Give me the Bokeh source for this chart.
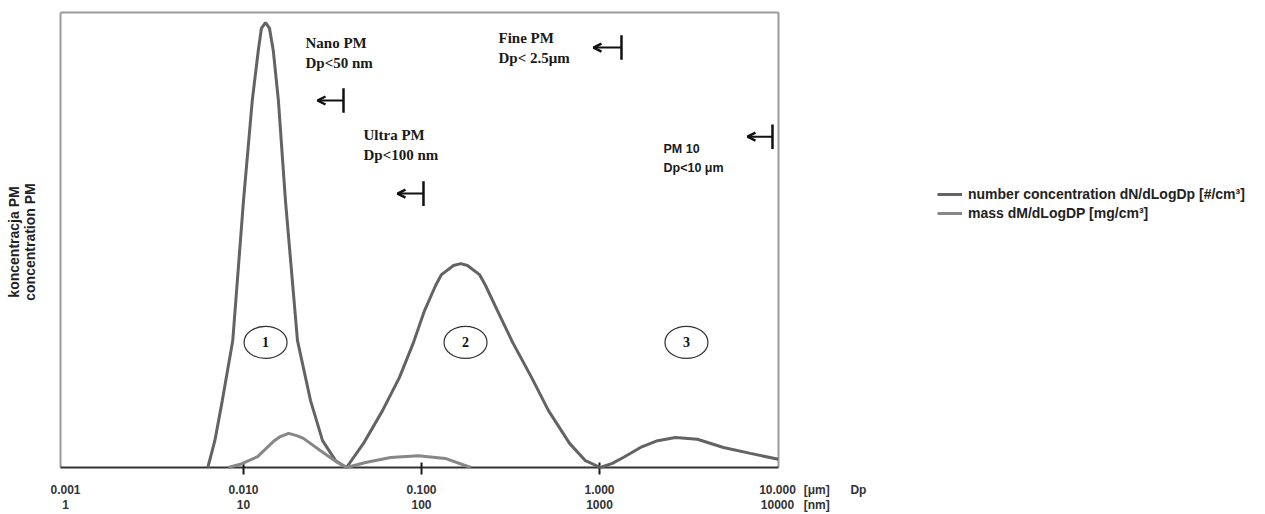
from bokeh.plotting import figure
from bokeh.models import Range1d, FixedTicker, Legend, LegendItem, Arrow, OpenHead
from bokeh.core.properties import value
from bokeh.embed import file_html
from bokeh.resources import INLINE

# ---------------- data ----------------
# particle diameter Dp [um] and relative concentration (arbitrary units, 0-100)
dp_number = [0.0063, 0.0069, 0.0076, 0.0087, 0.0100, 0.0112, 0.0121, 0.0126, 0.0133,
             0.0140, 0.0147, 0.0157, 0.0172, 0.0201, 0.0238, 0.0278, 0.0329, 0.0379,
             0.0472, 0.0604, 0.0752, 0.0902, 0.104, 0.120, 0.1295, 0.1513, 0.166, 0.1813,
             0.2117, 0.229, 0.267, 0.325, 0.415, 0.517, 0.679, 0.834, 1.01, 1.18, 1.36,
             1.70, 2.12, 2.67, 3.55, 4.97, 7.05, 10.1]
conc_number = [0.0, 5.9, 14.7, 27.9, 58.7, 80.7, 91.6, 96.5, 97.8,
               96.5, 91.6, 80.7, 58.7, 27.9, 14.7, 5.9, 1.5, 0.0,
               5.3, 12.5, 19.8, 27.5, 34.5, 40.0, 42.4, 44.4, 44.8, 44.4,
               42.4, 40.0, 34.5, 27.5, 19.8, 12.5, 5.3, 1.5, 0.0, 0.9, 2.2,
               4.4, 5.9, 6.6, 6.2, 4.4, 3.1, 1.8]

dp_mass = [0.0082, 0.0096, 0.0120, 0.0147, 0.0161, 0.0179, 0.0199, 0.0217, 0.0271,
           0.0337, 0.0379, 0.0485, 0.0670, 0.0962, 0.136, 0.189]
conc_mass = [0.0, 0.7, 2.4, 5.7, 6.8, 7.5, 7.0, 6.4, 3.7,
             1.1, 0.0, 1.1, 2.2, 2.6, 2.0, 0.0]

tick_um = [0.001, 0.01, 0.1, 1, 10]
tick_um_labels = ["0.001", "0.010", "0.100", "1.000", "10.000"]
tick_nm_labels = ["1", "10", "100", "1000", "10000"]
unit_labels = "[\u03bcm]\n[nm]"
x_title = "Dp"

legend_labels = ["number concentration dN/dLogDp [#/cm\u00b3]", "mass dM/dLogDP [mg/cm\u00b3]"]
y_title = "koncentracja PM\nconcentration PM"

mode_labels = ["1", "2", "3"]
class_names = ["Nano PM", "Ultra PM", "Fine PM"]
class_limits = ["Dp<50 nm", "Dp<100 nm", "Dp< 2.5\u03bcm"]
pm10_name = "PM 10"
pm10_limit = "Dp<10 \u03bcm"

# ---------------- layout constants ----------------
frame_left_dp, frame_right_dp = 0.000937, 10.13      # drawn plot box
x_start, x_end = 0.000913, 5309.0                    # frame spans to the legend area
y_start, y_end = -1.538, 100.66
unit_tick_dp, title_tick_dp = 16.6, 28.5

p = figure(width=1262, height=514, x_axis_type="log",
           x_range=Range1d(x_start, x_end), y_range=Range1d(y_start, y_end),
           output_backend="svg", toolbar_location=None,
           min_border_left=58, min_border_right=0, min_border_top=9, min_border_bottom=40)
p.grid.visible = False
p.outline_line_color = None
p.background_fill_color = "white"
p.border_fill_color = "white"

# x axis: only labels (marks and line are drawn as glyphs to stop at the box)
xa = p.xaxis[0]
all_ticks = tick_um + [unit_tick_dp, title_tick_dp]
xa.ticker = FixedTicker(ticks=all_ticks, minor_ticks=[])
overrides = {t: f"{a}\n{b}" for t, a, b in zip(tick_um, tick_um_labels, tick_nm_labels)}
overrides[unit_tick_dp] = unit_labels
overrides[title_tick_dp] = x_title
xa.major_label_overrides = overrides
xa.major_label_text_font = "Liberation Sans"
xa.major_label_text_font_style = "bold"
xa.major_label_text_font_size = "12px"
xa.major_label_text_color = "#333333"
xa.major_label_text_line_height = 1.1
xa.major_label_standoff = 8
xa.axis_line_color = None
xa.major_tick_line_color = None
xa.minor_tick_line_color = None
xa.major_tick_in = 0
xa.major_tick_out = 0

ya = p.yaxis[0]
ya.ticker = FixedTicker(ticks=[])
ya.major_tick_line_color = None
ya.minor_tick_line_color = None
ya.major_tick_out = 0
ya.major_tick_in = 0
ya.major_label_standoff = 0
ya.axis_line_color = None
ya.axis_label = y_title
ya.axis_label_text_font = "Liberation Sans"
ya.axis_label_text_font_style = "bold"
ya.axis_label_text_font_size = "14px"
ya.axis_label_text_line_height = 0.95
ya.axis_label_text_color = "#222222"
ya.axis_label_standoff = 21

# plot box and baseline
p.segment(x0=[frame_left_dp, frame_left_dp, frame_right_dp],
          y0=[0, 100, 0],
          x1=[frame_left_dp, frame_right_dp, frame_right_dp],
          y1=[100, 100, 100], line_color="#9a9a9a", line_width=2)
p.segment(x0=[frame_left_dp], y0=[0], x1=[frame_right_dp], y1=[0], line_color="#333333", line_width=2)
inner_ticks = tick_um[1:-1]
p.segment(x0=inner_ticks, y0=[-1.75] * len(inner_ticks), x1=inner_ticks, y1=[1.1] * len(inner_ticks),
          line_color="#1a1a1a", line_width=2)

# ---------------- curves ----------------
r_num = p.line(dp_number, conc_number, line_color="#636363", line_width=3)
r_mass = p.line(dp_mass, conc_mass, line_color="#878787", line_width=3)

legend = Legend(items=[LegendItem(label=legend_labels[0], renderers=[r_num]),
                       LegendItem(label=legend_labels[1], renderers=[r_mass])],
                location=(879, 253), padding=0, margin=0, spacing=3,
                glyph_width=25, glyph_height=16, label_height=16, label_standoff=6,
                border_line_color=None, background_fill_alpha=0,
                label_text_font="Liberation Sans", label_text_font_style="bold",
                label_text_font_size="14px", label_text_color="#222222")
p.add_layout(legend)

# ---------------- mode ellipses ----------------
mode_x = [0.0133, 0.1767, 3.08]
mode_y = [27.5, 27.5, 27.5]
p.ellipse(x=mode_x, y=mode_y, width=43, height=32, width_units="screen", height_units="screen",
          fill_color="white", line_color="#333333", line_width=1.2)
p.text(x=mode_x, y=mode_y, text=mode_labels, text_font=value("Liberation Serif"),
       text_font_style="bold", text_font_size="14px", text_align="center",
       text_baseline="middle", text_color="#111111")

# ---------------- size class annotations ----------------
serif_x = [0.0223, 0.0472, 0.2708]
p.text(x=serif_x, y=[93.4, 73.0, 94.5], text=class_names, text_font=value("Liberation Serif"),
       text_font_style="bold", text_font_size="15px", text_align="left",
       text_baseline="middle", text_color="#1a1a1a")
p.text(x=serif_x, y=[88.8, 68.6, 90.1], text=class_limits, text_font=value("Liberation Serif"),
       text_font_style="bold", text_font_size="15px", text_align="left",
       text_baseline="middle", text_color="#1a1a1a")
p.text(x=[2.288, 2.288], y=[70.1, 65.9], text=[pm10_name, pm10_limit],
       text_font=value("Liberation Sans"), text_font_style="bold", text_font_size="12.5px",
       text_align="left", text_baseline="middle", text_color="#1a1a1a")

arrow_head = [0.02604, 0.0733, 0.925, 6.785]
arrow_bar = [0.03645, 0.1026, 1.329, 9.374]
arrow_y = [80.66, 60.2, 92.3, 72.7]
for xh, xb, yy in zip(arrow_head, arrow_bar, arrow_y):
    p.add_layout(Arrow(end=OpenHead(size=8, line_width=2.5, line_color="#111111"),
                       x_start=xb, y_start=yy, x_end=xh, y_end=yy,
                       line_width=2, line_color="#111111"))
p.segment(x0=arrow_bar, y0=[y + 2.7 for y in arrow_y], x1=arrow_bar, y1=[y - 2.7 for y in arrow_y],
          line_width=2.5, line_color="#111111")

open("out.html", "w").write(file_html(p, INLINE))
